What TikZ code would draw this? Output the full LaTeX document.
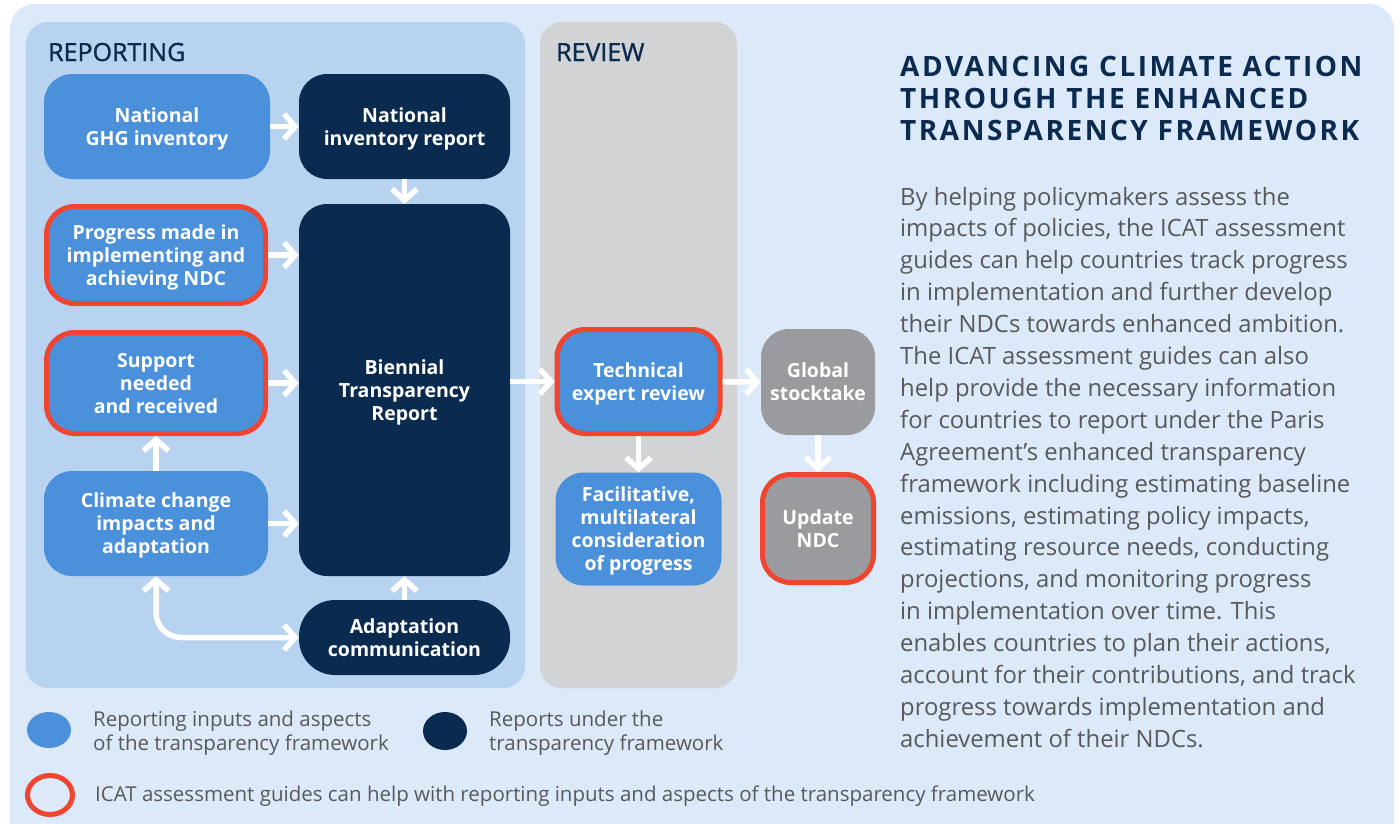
\documentclass[tikz,border=0pt]{standalone}
\usepackage{fontspec}
\setmainfont{Open Sans}
\newfontfamily\titlefont[LetterSpace=9]{Open Sans}
\newfontfamily\headfont[BoldFont={Open Sans}, BoldFeatures={FakeBold=1.2}]{Open Sans}
\usetikzlibrary{arrows.meta}

\definecolor{pagebg}{HTML}{DCE9F8}
\definecolor{repbg}{HTML}{B8D3F0}
\definecolor{revbg}{HTML}{D1D3D4}
\definecolor{inputblue}{HTML}{4A90DB}
\definecolor{navy}{HTML}{0B2A4F}
\definecolor{stockgrey}{HTML}{9A9B9F}
\definecolor{icatred}{HTML}{F04530}
\definecolor{textgrey}{HTML}{58595B}

\begin{document}
\begin{tikzpicture}[x=1pt,y=-1pt,
  >={Straight Barb[length=11pt,width=25pt]},
  box/.style={rounded corners=28pt, align=center, text=white, inner sep=0pt,
    text depth=0pt, font=\bfseries\fontsize{19.5}{23}\selectfont},
  input/.style={box, fill=inputblue},
  report/.style={box, fill=navy},
  global/.style={box, fill=stockgrey},
  icat/.style={draw=icatred, line width=5pt},
  flow/.style={draw=white, line width=5.5pt, ->},
  head/.style={text=navy, inner sep=0pt, font=\headfont\bfseries\fontsize{25}{30}\selectfont},
  legend/.style={text=textgrey, inner sep=0pt, align=left, font=\fontsize{20.5}{24}\selectfont}]
  \clip (0,0) rectangle (1400,823);
  \fill[white] (0,0) rectangle (1400,823);
  \fill[pagebg, rounded corners=25pt] (10,4) rectangle (1394,860);

  % panels
  \fill[repbg, rounded corners=22pt] (26,22) rectangle (525,688);
  \fill[revbg, rounded corners=22pt] (540,22) rectangle (737,688);
  \node[head, anchor=base west] (rep) at (48,61) {REPORTING};
  \node[head, anchor=base west] (rev) at (556,61) {REVIEW};

  % reporting column
  \node[input, minimum width=226pt, minimum height=105pt] (ghg) at (157,126.5) {National\\GHG inventory};
  \node[report, minimum width=211pt, minimum height=105pt] (nir) at (404.5,126.5) {National\\inventory report};
  \node[input, icat, minimum width=219pt, minimum height=97pt] (prog) at (156,255) {Progress made in\\implementing and\\achieving NDC};
  \node[input, icat, minimum width=219pt, minimum height=101pt] (supp) at (156,383) {Support\\needed\\and received};
  \node[input, minimum width=224pt, minimum height=105pt] (clim) at (156,523.5) {Climate change\\impacts and\\adaptation};
  \node[report, minimum width=211pt, minimum height=372pt] (btr) at (404.5,390) {Biennial\\Transparency\\Report};
  \node[report, rounded corners=36pt, minimum width=211pt, minimum height=75pt] (adc) at (404.5,637.5) {Adaptation\\communication};

  % review column
  \node[input, icat, minimum width=163pt, minimum height=104pt] (ter) at (638.5,381.5) {Technical\\expert review};
  \node[input, minimum width=166pt, minimum height=113pt] (fac) at (638.5,529) {Facilitative,\\multilateral\\consideration\\of progress};
  \node[global, minimum width=114pt, minimum height=106pt] (gst) at (818,382) {Global\\stocktake};
  \node[global, icat, minimum width=111pt, minimum height=108pt] (upd) at (818,528.5) {Update\\NDC};

  % arrows
  \draw[flow] (ghg) -- (nir);
  \draw[flow] (nir) -- (btr);
  \foreach \n in {prog,supp,clim}
    \draw[flow] (\n) -- (\n -| btr.west);
  \draw[flow] (clim) -- (supp);
  \draw[flow] (adc) -- (btr);
  \draw[flow, <->, rounded corners=25pt] (clim.south) |- (adc.west);
  \draw[flow] (btr.east |- ter) -- (ter);
  \draw[flow] (ter) -- (gst);
  \draw[flow] (ter) -- (fac);
  \draw[flow] (gst) -- (upd);

  % title and text
  \node[anchor=base west, align=left, inner sep=0pt, text=navy,
    font=\titlefont\bfseries\fontsize{28}{32}\selectfont] (title) at (900,140)
    {ADVANCING CLIMATE ACTION\\THROUGH THE ENHANCED\\TRANSPARENCY FRAMEWORK};
  \node[anchor=base west, align=left, inner sep=0pt, text=textgrey,
    font=\fontsize{23.85}{31.9}\selectfont] (body) at (900,747.3)
    {By helping policymakers assess the\\
     impacts of policies, the ICAT assessment\\
     guides can help countries track progress\\
     in implementation and further develop\\
     their NDCs towards enhanced ambition.\\
     The ICAT assessment guides can also\\
     help provide the necessary information\\
     for countries to report under the Paris\\
     Agreement’s enhanced transparency\\
     framework including estimating baseline\\
     emissions, estimating policy impacts,\\
     estimating resource needs, conducting\\
     projections, and monitoring progress\\
     in implementation over time. This\\
     enables countries to plan their actions,\\
     account for their contributions, and track\\
     progress towards implementation and\\
     achievement of their NDCs.};

  % legend
  \fill[inputblue] (49,730) ellipse [x radius=22, y radius=18];
  \fill[navy] (445,731) ellipse [x radius=22, y radius=19];
  \draw[icatred, line width=5pt] (50,795) ellipse [x radius=22.5, y radius=19.5];
  \node[legend, anchor=west] (lin) at (93,733.5) {Reporting inputs and aspects\\of the transparency framework};
  \node[legend, anchor=west] (lrep) at (489,733.5) {Reports under the\\transparency framework};
  \node[legend, anchor=west] (licat) at (95,796) {ICAT assessment guides can help with reporting inputs and aspects of the transparency framework};
\end{tikzpicture}
\end{document}
